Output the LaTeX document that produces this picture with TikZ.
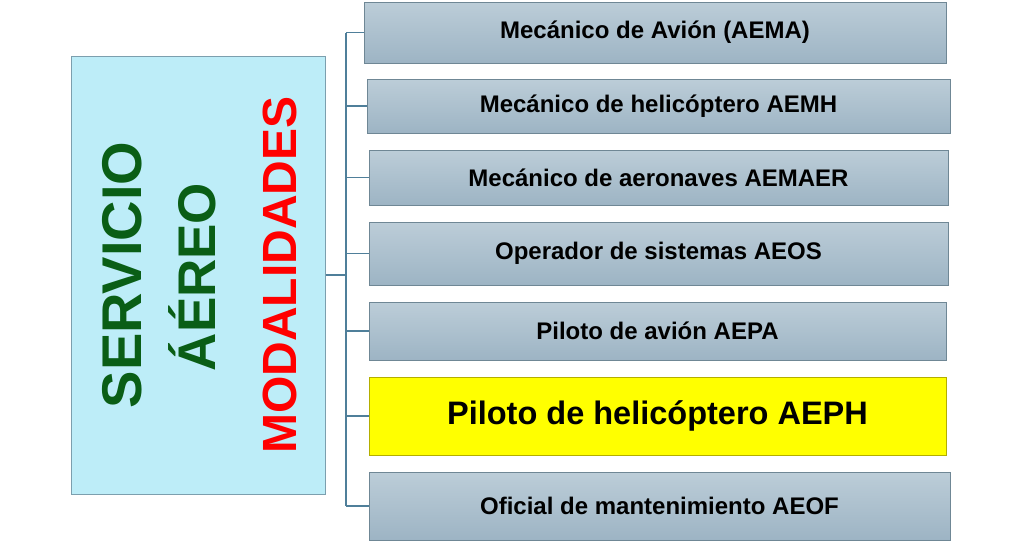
\documentclass[tikz,border=0pt]{standalone}
\usepackage{fontspec}
\setmainfont{Liberation Sans}
\definecolor{boxtop}{HTML}{BCCDD8}
\definecolor{boxbot}{HTML}{9DB4C4}
\definecolor{boxline}{HTML}{6F8795}
\definecolor{leftfill}{HTML}{BDEDF8}
\definecolor{leftline}{HTML}{7C9FAE}
\definecolor{conn}{HTML}{4F7F9A}
\definecolor{dgreen}{HTML}{0A5E16}
\definecolor{yfill}{HTML}{FFFF00}
\definecolor{yline}{HTML}{B3AE00}
\tikzset{
  modbox/.style={draw=boxline, line width=1pt, top color=boxtop, bottom color=boxbot, inner sep=0pt, font=\bfseries\fontsize{24}{26}\selectfont, text=black},
  hibox/.style={draw=yline, line width=1pt, fill=yfill, inner sep=0pt, font=\bfseries\fontsize{32.5}{36}\selectfont, text=black},
  leftbox/.style={draw=leftline, line width=1pt, fill=leftfill, inner sep=0pt},
  conline/.style={draw=conn, line width=1.8pt},
  vtext/.style={rotate=90, inner sep=0pt}
}
\begin{document}
\begin{tikzpicture}[x=1pt,y=-1pt]
\useasboundingbox (0,0) rectangle (1024,542);
\node[leftbox, minimum width=254pt, minimum height=438pt] (L) at (198,275) {};
\node[vtext, text=dgreen, font=\bfseries\fontsize{56}{60}\selectfont] (s1) at (122,275) {SERVICIO};
\node[vtext, text=dgreen, font=\bfseries\fontsize{53}{60}\selectfont] (s2) at (192,277) {ÁÉREO};
\node[vtext, text=red, font=\bfseries\fontsize{48}{60}\selectfont] (s3) at (280,275) {MODALIDADES};
\node[modbox, minimum width=582pt, minimum height=61pt] (m1) at (655,32.5) {Mecánico de Avión (AEMA)};
\node[modbox, minimum width=583pt, minimum height=54pt] (m2) at (658.5,106) {Mecánico de helicóptero AEMH};
\node[modbox, minimum width=579pt, minimum height=55pt] (m3) at (658.5,177.5) {Mecánico de aeronaves AEMAER};
\node[modbox, minimum width=579pt, minimum height=63pt] (m4) at (658.5,253.5) {Operador de sistemas AEOS};
\node[modbox, minimum width=577pt, minimum height=58pt] (m5) at (657.5,331) {Piloto de avión AEPA};
\node[hibox, minimum width=577pt, minimum height=78pt] (m6) at (657.5,416) {Piloto de helicóptero AEPH};
\node[modbox, minimum width=581pt, minimum height=68pt] (m7) at (659.5,506) {Oficial de mantenimiento AEOF};
\coordinate (t) at (346,275);
\draw[conline] (L.east) -- (t);
\draw[conline] (t |- m1.west) -- (t |- m7.west);
\foreach \m in {m1,m2,m3,m4,m5,m6,m7} {
  \draw[conline] (t |- \m.west) -- (\m.west);
}
\end{tikzpicture}
\end{document}
